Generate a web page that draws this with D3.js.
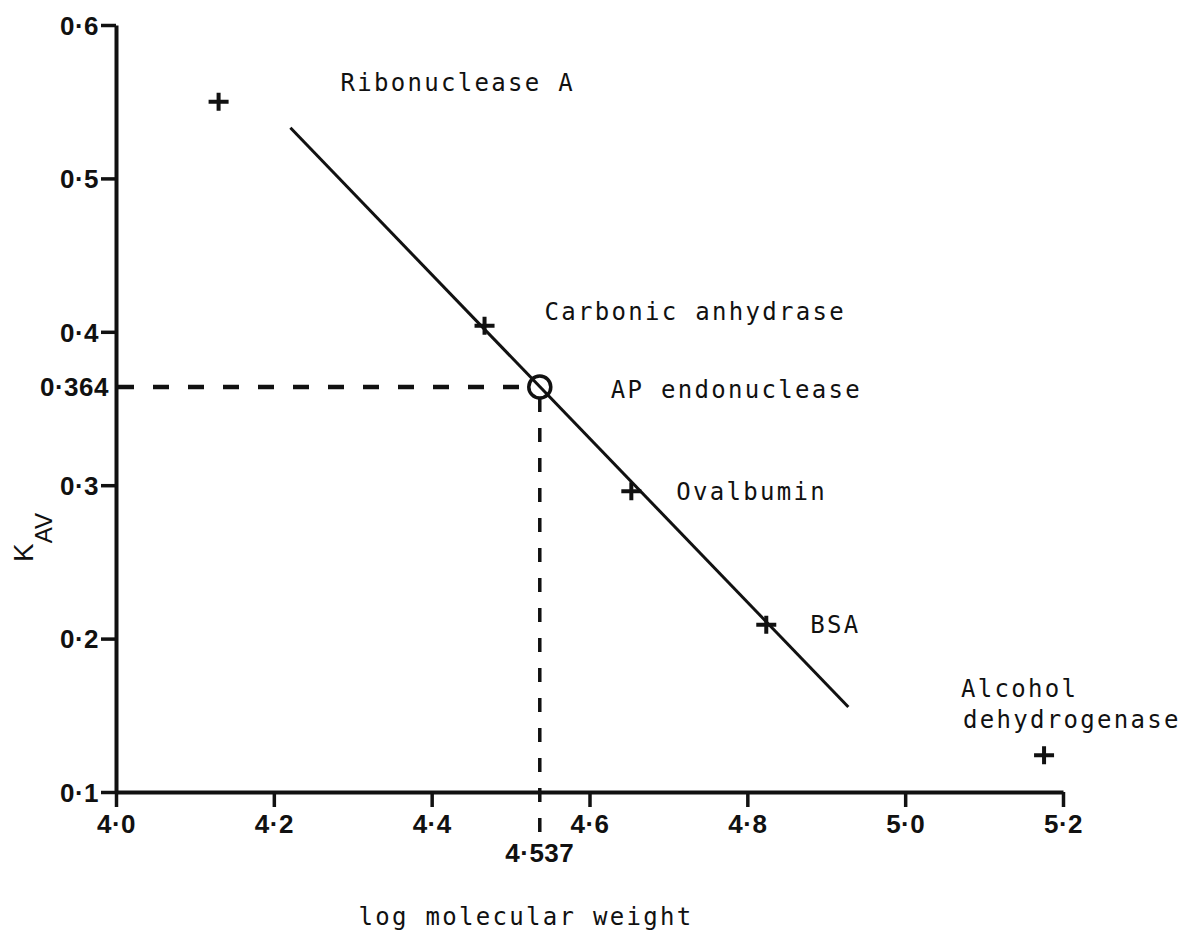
<!DOCTYPE html>
<html>
<head>
<meta charset="utf-8">
<script src="https://cdn.jsdelivr.net/npm/d3@7/dist/d3.min.js"></script>
<style>
  html, body { margin: 0; padding: 0; background: #fff; }
  svg { display: block; }
  .tick-label { font-family: "Liberation Sans", Arial, sans-serif; font-weight: bold; font-size: 26px; letter-spacing: 0.5px; fill: #111; }
  .mono { font-family: "DejaVu Sans Mono", monospace; font-size: 24px; letter-spacing: 2.3px; fill: #111; }
</style>
</head>
<body>
<svg id="chart" width="1181" height="935"></svg>
<script>
// Calibration proteins: log molecular weight vs K_AV
const proteins = ["Ribonuclease A", "Carbonic anhydrase", "Ovalbumin", "BSA", "Alcohol dehydrogenase"];
const logMW = [4.13, 4.467, 4.653, 4.824, 5.176];
const kav = [0.550, 0.404, 0.296, 0.209, 0.124];

// Unknown protein
const unknownName = "AP endonuclease";
const unknownLogMW = 4.537;
const unknownKav = 0.364;

// Fitted calibration line K_AV = intercept + slope * logMW, drawn over this range
const fitIntercept = 2.787;
const fitSlope = -0.534;
const fitRange = [4.221, 4.928];

// Axis ticks
const xTicks = [4.0, 4.2, 4.4, 4.6, 4.8, 5.0, 5.2];
const yTicks = [0.1, 0.2, 0.3, 0.4, 0.5, 0.6];

const svg = d3.select("#chart");
const x = d3.scaleLinear().domain([4.0, 5.2]).range([116, 1063]);
const y = d3.scaleLinear().domain([0.1, 0.6]).range([792, 25]);
const fmt = v => d3.format(".1f")(v).replace(".", "\u00B7");

// Label placement relative to each point (pixels)
const labelOffset = {
  "Ribonuclease A": [[122, -11]],
  "Carbonic anhydrase": [[60, -6]],
  "Ovalbumin": [[45, 9]],
  "BSA": [[44, 8]],
  "Alcohol dehydrogenase": [[-83, -58], [-81, -27]]
};

// Axes
const yAxis = d3.axisLeft(y).tickValues(yTicks).tickSize(15).tickSizeOuter(0).tickPadding(2).tickFormat(fmt);
const xAxis = d3.axisBottom(x).tickValues(xTicks).tickSize(15).tickSizeOuter(0).tickPadding(3).tickFormat(fmt);

const gy = svg.append("g").attr("transform", `translate(${x(4.0)},0)`).call(yAxis);
const gx = svg.append("g").attr("transform", `translate(0,${y(0.1)})`).call(xAxis);

[gx, gy].forEach(g => {
  g.select(".domain").attr("stroke", "#111").attr("stroke-width", 4);
  g.selectAll(".tick line").attr("stroke", "#111").attr("stroke-width", 3.5);
  g.selectAll(".tick text").attr("class", "tick-label").attr("font-size", null).attr("font-family", null);
});
gx.selectAll(".tick text").attr("dy", "0.9em");
gy.selectAll(".tick text").attr("dy", "0.36em");

// Calibration line
svg.append("line")
  .attr("x1", x(fitRange[0])).attr("y1", y(fitIntercept + fitSlope * fitRange[0]))
  .attr("x2", x(fitRange[1])).attr("y2", y(fitIntercept + fitSlope * fitRange[1]))
  .attr("stroke", "#111").attr("stroke-width", 3);

// Dashed read-off lines to the axes
const cr = 11;
svg.append("line")
  .attr("x1", x(4.0) + 2).attr("y1", y(unknownKav))
  .attr("x2", x(unknownLogMW) - cr).attr("y2", y(unknownKav))
  .attr("stroke", "#111").attr("stroke-width", 4.5).attr("stroke-dasharray", "16,19");
svg.append("line")
  .attr("x1", x(unknownLogMW)).attr("y1", y(unknownKav) + cr)
  .attr("x2", x(unknownLogMW)).attr("y2", y(0.1) + 46)
  .attr("stroke", "#111").attr("stroke-width", 3.5).attr("stroke-dasharray", "14,16");

// Read-off values on the axes
svg.append("text").attr("class", "tick-label")
  .attr("x", x(4.0) - 7).attr("y", y(unknownKav)).attr("dy", "0.36em")
  .attr("text-anchor", "end").text(d3.format(".3f")(unknownKav).replace(".", "\u00B7"));
svg.append("text").attr("class", "tick-label")
  .attr("x", x(unknownLogMW)).attr("y", y(0.1) + 70)
  .attr("text-anchor", "middle").text(d3.format(".3f")(unknownLogMW).replace(".", "\u00B7"));

// Unknown protein marker
svg.append("circle")
  .attr("cx", x(unknownLogMW)).attr("cy", y(unknownKav)).attr("r", cr)
  .attr("fill", "none").attr("stroke", "#111").attr("stroke-width", 3.5);
svg.append("text").attr("class", "mono")
  .attr("x", x(unknownLogMW) + 71).attr("y", y(unknownKav) + 11).text(unknownName);

// Standard proteins
const pts = proteins.map((p, i) => ({ name: p, lx: logMW[i], k: kav[i] }));
svg.selectAll("path.pt").data(pts).join("path")
  .attr("class", "pt")
  .attr("transform", d => `translate(${x(d.lx)},${y(d.k)})`)
  .attr("d", "M-10,0H10M0,-9V9")
  .attr("stroke", "#111").attr("stroke-width", 4).attr("fill", "none");

pts.forEach(d => {
  const words = d.name === "Alcohol dehydrogenase" ? ["Alcohol", "dehydrogenase"] : [d.name];
  words.forEach((w, j) => {
    const off = labelOffset[d.name][j];
    svg.append("text").attr("class", "mono")
      .attr("x", x(d.lx) + off[0]).attr("y", y(d.k) + off[1]).text(w);
  });
});

// Axis titles
svg.append("text").attr("class", "mono")
  .attr("x", 526).attr("y", 925).attr("text-anchor", "middle").text("log molecular weight");

const kt = svg.append("text")
  .attr("transform", "translate(33,562) rotate(-90)")
  .attr("font-family", "Liberation Sans, Arial, sans-serif").attr("fill", "#111");
kt.append("tspan").attr("font-size", 28).text("K");
kt.append("tspan").attr("font-size", 24).attr("dy", 19).text("AV");
</script>
</body>
</html>
